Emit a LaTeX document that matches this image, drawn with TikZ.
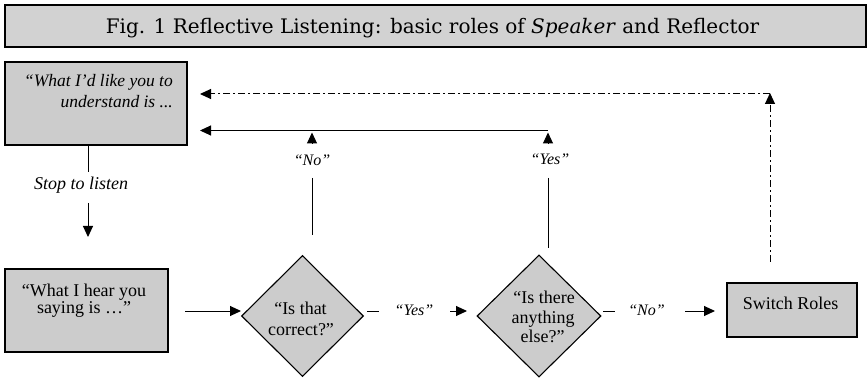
\documentclass[tikz,border=0pt]{standalone}
\usepackage{fontspec}
\newfontfamily\tnr{Liberation Serif}
\newfontfamily\ttl{DejaVu Serif}
\usetikzlibrary{arrows.meta,shapes.geometric}
\definecolor{boxgray}{RGB}{204,204,204}
\definecolor{titlegray}{RGB}{210,210,210}
\begin{document}
\begin{tikzpicture}[x=1pt,y=-1pt,
  box/.style={draw, line width=1.3pt, fill=boxgray, inner sep=0pt},
  dia/.style={diamond, draw, line width=1.1pt, fill=boxgray, inner sep=0pt, minimum width=122pt, minimum height=121pt},
  txt/.style={font=\tnr\fontsize{18}{18}\selectfont, inner sep=0pt, anchor=base},
  itxt/.style={font=\tnr\itshape\fontsize{17.5}{17.5}\selectfont, inner sep=0pt, anchor=base},
  lbl/.style={font=\tnr\itshape\fontsize{16}{16}\selectfont, inner sep=0pt, anchor=base},
  conn/.style={line width=1pt},
  arr/.style={conn, -{Triangle[length=11pt,width=10pt]}},
  dd/.style={dash pattern=on 7pt off 3pt on 2pt off 3pt}
]
\useasboundingbox (0,0) rectangle (867,379);
% title
\node[box, line width=1.2pt, fill=titlegray, minimum width=861pt, minimum height=42pt] (title) at (435.5,26) {};
\node[font=\ttl\fontsize{20}{20}\selectfont, anchor=base, inner sep=0pt] (titletext) at (432.5,33.5) {Fig. 1 Reflective Listening: basic roles of \textit{Speaker} and Reflector};
% speaker box
\node[box, minimum width=182pt, minimum height=83pt] (boxA) at (96,103.5) {};
\node[itxt, anchor=base east] (tA1) at (173,87) {“What I’d like you to};
\node[itxt, anchor=base east] (tA2) at (173,108) {understand is ...};
% stop to listen
\coordinate (s0) at (88,145);
\coordinate (s1) at (88,172);
\draw[conn] (s0) -- (s1);
\node[itxt, font=\tnr\itshape\fontsize{18}{18}\selectfont] (stop) at (81,190) {Stop to listen};
\coordinate (s2) at (88,203);
\coordinate (s3) at (88,237);
\draw[arr] (s2) -- (s3);
% reflector box
\node[box, minimum width=163pt, minimum height=83pt] (boxB) at (86.5,310.5) {};
\node[txt] (tB1) at (84,296) {“What I hear you};
\node[txt] (tB2) at (84,313.5) {saying is …”};
\coordinate (b1) at (185,311);
\coordinate (d1in) at (241,311);
\draw[arr] (b1) -- (d1in);
% diamond 1
\node[dia] (d1) at (302.5,316) {};
\node[txt] (tD1a) at (300.5,314) {“Is that};
\node[txt] (tD1b) at (301,335) {correct?”};
\coordinate (d1o) at (367,311);
\coordinate (d1o2) at (379,311);
\draw[conn] (d1o) -- (d1o2);
\node[lbl] (yes1) at (414,316) {“Yes”};
\coordinate (y1a) at (450,311);
\coordinate (y1b) at (467,311);
\draw[arr] (y1a) -- (y1b);
% diamond 2
\node[dia, minimum width=124pt, minimum height=122pt] (d2) at (539,316) {};
\node[txt] (tD2a) at (544,303) {“Is there};
\node[txt] (tD2b) at (543,323) {anything};
\node[txt] (tD2c) at (542.5,342) {else?”};
\coordinate (d2o) at (603,311);
\coordinate (d2o2) at (615,311);
\draw[conn] (d2o) -- (d2o2);
\node[lbl] (no1) at (646.5,316) {“No”};
\coordinate (n1a) at (685,311);
\coordinate (n1b) at (715,311);
\draw[arr] (n1a) -- (n1b);
% switch roles
\node[box, minimum width=130pt, minimum height=54pt] (sw) at (792,310) {};
\node[txt] (tSw) at (790.5,309.5) {Switch Roles};
% dash-dot return
\coordinate (r0) at (770,262);
\coordinate (r1) at (770,93);
\coordinate (r2) at (770,94);
\coordinate (r3) at (200,94);
\draw[arr,dd] (r0) -- (r1);
\draw[arr,dd] (r2) -- (r3);
% solid return
\coordinate (q0) at (548,130.5);
\coordinate (q1) at (200,130.5);
\draw[arr] (q0) -- (q1);
% "No" branch above diamond 1
\coordinate (p0) at (312,143.5);
\coordinate (p1) at (312,132.5);
\draw[arr] (p0) -- (p1);
\node[lbl] (no2) at (312,166) {“No”};
\coordinate (p2) at (312,178);
\coordinate (p3) at (312,235);
\draw[conn] (p2) -- (p3);
% "Yes" branch above diamond 2
\coordinate (u0) at (548,143.5);
\coordinate (u1) at (548,132.5);
\draw[arr] (u0) -- (u1);
\node[lbl] (yes2) at (550,165) {“Yes”};
\coordinate (u2) at (548,178);
\coordinate (u3) at (548,248);
\draw[conn] (u2) -- (u3);
\end{tikzpicture}
\end{document}
